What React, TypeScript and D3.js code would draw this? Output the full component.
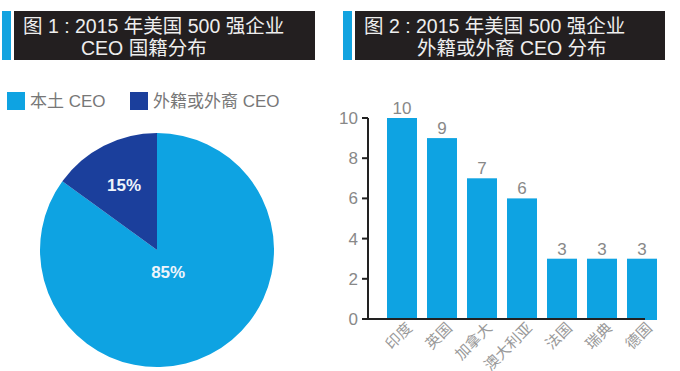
import { useEffect, useRef } from "react";
import * as d3 from "d3";

const pieLabels = ["本土 CEO", "外籍或外裔 CEO"];
const pieValues = [85, 15];
const countries = ["印度", "英国", "加拿大", "澳大利亚", "法国", "瑞典", "德国"];
const counts = [10, 9, 7, 6, 3, 3, 3];
const yTicks = [0, 2, 4, 6, 8, 10];

const LIGHT = "#0ea3e2";
const DARK = "#1b3f9c";
const FONT = "'Liberation Sans', 'Noto Sans CJK SC', sans-serif";

const App = () => {
  const ref = useRef<SVGSVGElement>(null);

  useEffect(() => {
    const svg = d3.select(ref.current);
    svg.selectAll("*").remove();

    // ===== TITLES =====
    const titles = [
      { x: 2, lines: ["图 1 : 2015 年美国 500 强企业", "CEO 国籍分布"], indent: 58, w: 301 },
      { x: 343, lines: ["图 2 : 2015 年美国 500 强企业", "外籍或外裔 CEO 分布"], indent: 53, w: 310 }
    ];
    titles.forEach(t => {
      const g = svg.append("g").attr("transform", `translate(${t.x},11)`);
      g.append("rect").attr("width", 9).attr("height", 49).attr("fill", "#12a3e0");
      g.append("rect").attr("x", 12).attr("width", t.w).attr("height", 49).attr("fill", "#231f20");
      g.append("text").attr("x", 21).attr("y", 22).text(t.lines[0])
        .attr("fill", "#eeeeee").style("font-size", "19.5px").style("font-family", FONT);
      g.append("text").attr("x", 21 + t.indent).attr("y", 44).text(t.lines[1])
        .attr("fill", "#eeeeee").style("font-size", "19.5px").style("font-family", FONT);
    });

    // ===== LEGEND =====
    const color = d3.scaleOrdinal<string>().domain(pieLabels).range([LIGHT, DARK]);
    const legendX = [7, 130];
    pieLabels.forEach((l, i) => {
      svg.append("rect").attr("x", legendX[i]).attr("y", 92).attr("width", 18).attr("height", 18)
        .attr("fill", color(l));
      svg.append("text").attr("x", legendX[i] + 23).attr("y", 107).text(l)
        .attr("fill", "#777").style("font-size", "17px").style("font-family", FONT);
    });

    // ===== PIE =====
    const radius = 117;
    const pie = d3.pie<number>().sort(null).value(d => d);
    const arcs = pie(pieValues);
    const arc = d3.arc<d3.PieArcDatum<number>>().innerRadius(0).outerRadius(radius);
    const gPie = svg.append("g").attr("transform", "translate(157,250)");
    gPie.selectAll("path").data(arcs).join("path")
      .attr("d", arc)
      .attr("fill", (d, i) => color(pieLabels[i]));
    const labelR = [0.21, 0.62];
    gPie.selectAll("text").data(arcs).join("text")
      .text(d => `${d.data}%`)
      .attr("transform", (d, i) => {
        const r = radius * labelR[i];
        const [cx, cy] = d3.arc<d3.PieArcDatum<number>>().innerRadius(r).outerRadius(r).centroid(d);
        return `translate(${cx},${cy + 6})`;
      })
      .attr("text-anchor", "middle")
      .attr("fill", "#eef4fb")
      .style("font-size", "17px").style("font-weight", "bold").style("font-family", FONT);

    // ===== BARS =====
    const x = d3.scaleBand().domain(countries).range([377, 667]).paddingInner(0.25).paddingOuter(0.25);
    const y = d3.scaleLinear().domain([0, 10]).range([319, 118]);
    const gBar = svg.append("g");
    gBar.selectAll("rect").data(countries).join("rect")
      .attr("x", d => x(d)!)
      .attr("y", (d, i) => y(counts[i]))
      .attr("width", x.bandwidth())
      .attr("height", (d, i) => y(0) - y(counts[i]) + 1)
      .attr("fill", LIGHT);
    gBar.selectAll("text.val").data(countries).join("text")
      .attr("class", "val")
      .attr("x", d => x(d)! + x.bandwidth() / 2)
      .attr("y", (d, i) => y(counts[i]) - 4)
      .text((d, i) => counts[i])
      .attr("text-anchor", "middle")
      .attr("fill", "#888").style("font-size", "17px").style("font-family", FONT);

    // axes
    const gAxis = svg.append("g");
    gAxis.append("path")
      .attr("d", `M368,${y(10)}V${y(0)}M362,${y(0)}H645`)
      .attr("fill", "none").attr("stroke", "#222").attr("stroke-width", 2);
    gAxis.selectAll("path.tick").data(yTicks).join("path")
      .attr("class", "tick")
      .attr("d", t => `M362,${y(t)}H368`)
      .attr("stroke", "#222").attr("stroke-width", 2);
    yTicks.forEach(t => {
      svg.append("text").attr("x", 358).attr("y", y(t) + 6).text(t)
        .attr("text-anchor", "end").attr("fill", "#888")
        .style("font-size", "17px").style("font-family", FONT);
    });
    countries.forEach(c => {
      const cx = x(c)! + x.bandwidth() / 2 + 11;
      svg.append("text").attr("transform", `translate(${cx},329) rotate(-45)`).text(c)
        .attr("text-anchor", "end").attr("fill", "#999")
        .style("font-size", "15px").style("font-family", FONT);
    });
  }, []);

  return (
    <svg ref={ref} width={680} height={371}
      style={{ position: "absolute", left: 0, top: 0, background: "#fff" }} />
  );
};

export default App;
